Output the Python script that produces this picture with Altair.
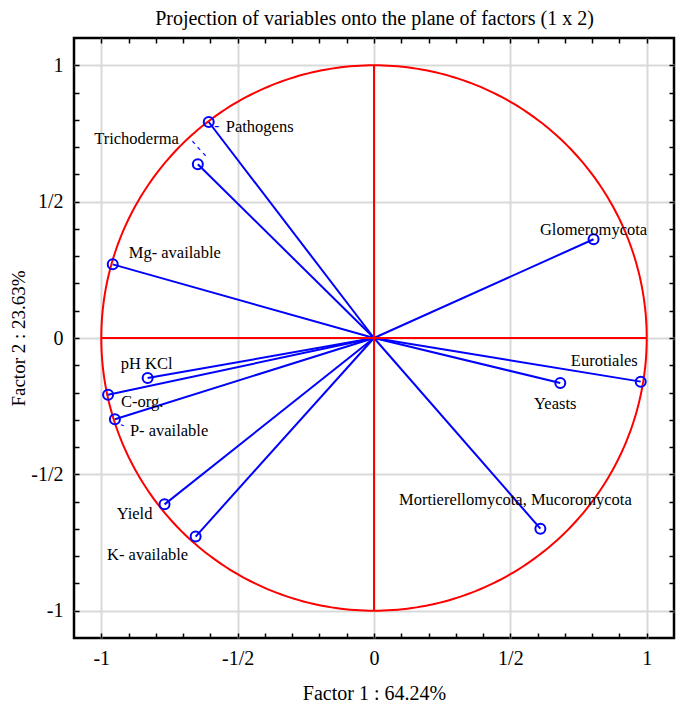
import altair as alt
import pandas as pd

# ---- data ----
names = ["Pathogens", "Trichoderma", "Mg- available", "Glomeromycota", "Eurotiales",
         "Yeasts", "Mortierellomycota, Mucoromycota", "pH KCl", "C-org.",
         "P- available", "Yield", "K- available"]
factor1 = [-0.606, -0.646, -0.958, 0.805, 0.978, 0.683, 0.610, -0.830, -0.975, -0.950, -0.768, -0.654]
factor2 = [0.792, 0.637, 0.270, 0.362, -0.160, -0.165, -0.699, -0.147, -0.208, -0.298, -0.610, -0.728]

major_ticks = [-1, -0.5, 0, 0.5, 1]
minor_ticks = [-1.0, -0.9, -0.8, -0.7, -0.6, -0.5, -0.4, -0.3, -0.2, -0.1, 0.0,
               0.1, 0.2, 0.3, 0.4, 0.5, 0.6, 0.7, 0.8, 0.9, 1.0]

title_text = "Projection of variables onto the plane of factors (1 x 2)"
x_title = "Factor 1 : 64.24%"
y_title = "Factor 2 : 23.63%"

df = pd.DataFrame({"name": names, "f1": factor1, "f2": factor2})
df["o"] = 0.0
cross = pd.DataFrame({"x": [-1, 0], "x2": [1, 0], "y": [0, -1], "y2": [0, 1]})

FONT = "Liberation Serif"
BLUE = "#0000ff"
RED = "#ff0000"
W, H = 600, 600

xs = alt.Scale(domain=[-1.1, 1.1], nice=False, zero=False)
ys = alt.Scale(domain=[-1.1, 1.1], nice=False, zero=False)

labexpr = ("datum.value == 0 ? '0' : datum.value == 0.5 ? '1/2' : "
           "datum.value == -0.5 ? '-1/2' : datum.value == 1 ? '1' : '-1'")


def tick_axis(orient, **kw):
    return alt.Axis(orient=orient, values=minor_ticks, labels=False, grid=False,
                    domain=False, ticks=True, tickSize=5, tickColor="black",
                    tickWidth=1.5, offset=-5, **kw)


top_axis = tick_axis("top", title=title_text, titleFont=FONT, titleFontSize=20,
                     titleFontWeight="normal", titleColor="black",
                     titleX=W / 2, titleY=-25, titleAlign="center", titleBaseline="middle")

x_lab_axis = alt.Axis(orient="bottom", values=major_ticks, labelExpr=labexpr,
                      ticks=False, domain=False, grid=True, gridColor="#d9d9d9",
                      gridWidth=2, labelFont=FONT, labelFontSize=20, labelColor="black",
                      labelPadding=10, title=x_title, titleFont=FONT, titleFontSize=20,
                      titleFontWeight="normal", titleColor="black",
                      titleX=W / 2, titleY=55, titleBaseline="middle", titleAlign="center")
y_lab_axis = alt.Axis(orient="left", values=major_ticks, labelExpr=labexpr,
                      ticks=False, domain=False, grid=True, gridColor="#d9d9d9",
                      gridWidth=2, labelFont=FONT, labelFontSize=20, labelColor="black",
                      labelPadding=11, title=y_title, titleFont=FONT, titleFontSize=19,
                      titleFontWeight="normal", titleColor="black", titleAngle=-90,
                      titleX=-56, titleY=H / 2, titleBaseline="middle", titleAlign="center")

# unit circle (top/right tick axes)
circle = alt.Chart(alt.sequence(0, 361, 1, as_="a")).transform_calculate(
    cx="cos(datum.a * PI / 180)", cy="sin(datum.a * PI / 180)"
).mark_line(color=RED, strokeWidth=2).encode(
    x=alt.X("cx:Q", scale=xs, axis=top_axis),
    y=alt.Y("cy:Q", scale=ys, axis=tick_axis("right", title=None)),
    order=alt.Order("a:Q"),
)

# red cross (bottom/left tick axes)
cross_lines = alt.Chart(cross).mark_rule(color=RED, strokeWidth=2).encode(
    x=alt.X("x:Q", scale=xs, axis=tick_axis("bottom", title=None)),
    x2="x2:Q",
    y=alt.Y("y:Q", scale=ys, axis=tick_axis("left", title=None)),
    y2="y2:Q",
)

vectors = alt.Chart(df).mark_rule(color=BLUE, strokeWidth=2).encode(
    x=alt.X("o:Q", scale=xs, axis=None),
    y=alt.Y("o:Q", scale=ys, axis=None),
    x2="f1:Q",
    y2="f2:Q",
)

points = alt.Chart(df).mark_point(color=BLUE, size=100, strokeWidth=2, filled=False, opacity=1).encode(
    x=alt.X("f1:Q", scale=xs, axis=x_lab_axis),
    y=alt.Y("f2:Q", scale=ys, axis=y_lab_axis),
)

label_style = {
    "Pathogens": ("left", 17, 5),
    "Trichoderma": ("right", -19, -25),
    "Mg- available": ("left", 16, -11),
    "Glomeromycota": ("center", 0, -9),
    "Eurotiales": ("right", -3, -21),
    "Yeasts": ("center", -5, 21),
    "Mortierellomycota, Mucoromycota": ("center", -25, -29),
    "pH KCl": ("center", -1, -14),
    "C-org.": ("left", 13, 7),
    "P- available": ("left", 15, 12),
    "Yield": ("center", -30, 10),
    "K- available": ("center", -48, 18),
}

texts = []
for nm, (al, dx, dy) in label_style.items():
    texts.append(
        alt.Chart(df).transform_filter(alt.datum.name == nm).mark_text(
            align=al, baseline="middle", dx=dx, dy=dy, font=FONT, fontSize=16.5, color="black"
        ).encode(
            x=alt.X("f1:Q", scale=xs, axis=None),
            y=alt.Y("f2:Q", scale=ys, axis=None),
            text="name:N",
        )
    )

# small blue leader marks
leaders = [
    ("Pathogens", "-", 8, 3, 0, 15),
    ("P- available", "-", 9, 2, 20, 12),
    ("Trichoderma", "- - -", -11, -12, 48, 14),
]
for nm, txt, dx, dy, ang, fs in leaders:
    texts.append(
        alt.Chart(df).transform_filter(alt.datum.name == nm).mark_text(
            align="center", baseline="middle", dx=dx, dy=dy, angle=ang, font=FONT,
            fontSize=fs, fontWeight="bold", color=BLUE, text=txt
        ).encode(
            x=alt.X("f1:Q", scale=xs, axis=None),
            y=alt.Y("f2:Q", scale=ys, axis=None),
        )
    )

chart = alt.layer(circle, vectors, cross_lines, points, *texts).resolve_axis(
    x="independent", y="independent"
).properties(
    width=W,
    height=H,
    autosize="none",
    padding={"left": 66, "top": 30, "right": 2, "bottom": 65},
).configure_view(stroke="black", strokeWidth=2.5)

chart.save("out.html", embed_options={"renderer": "svg", "actions": False})
